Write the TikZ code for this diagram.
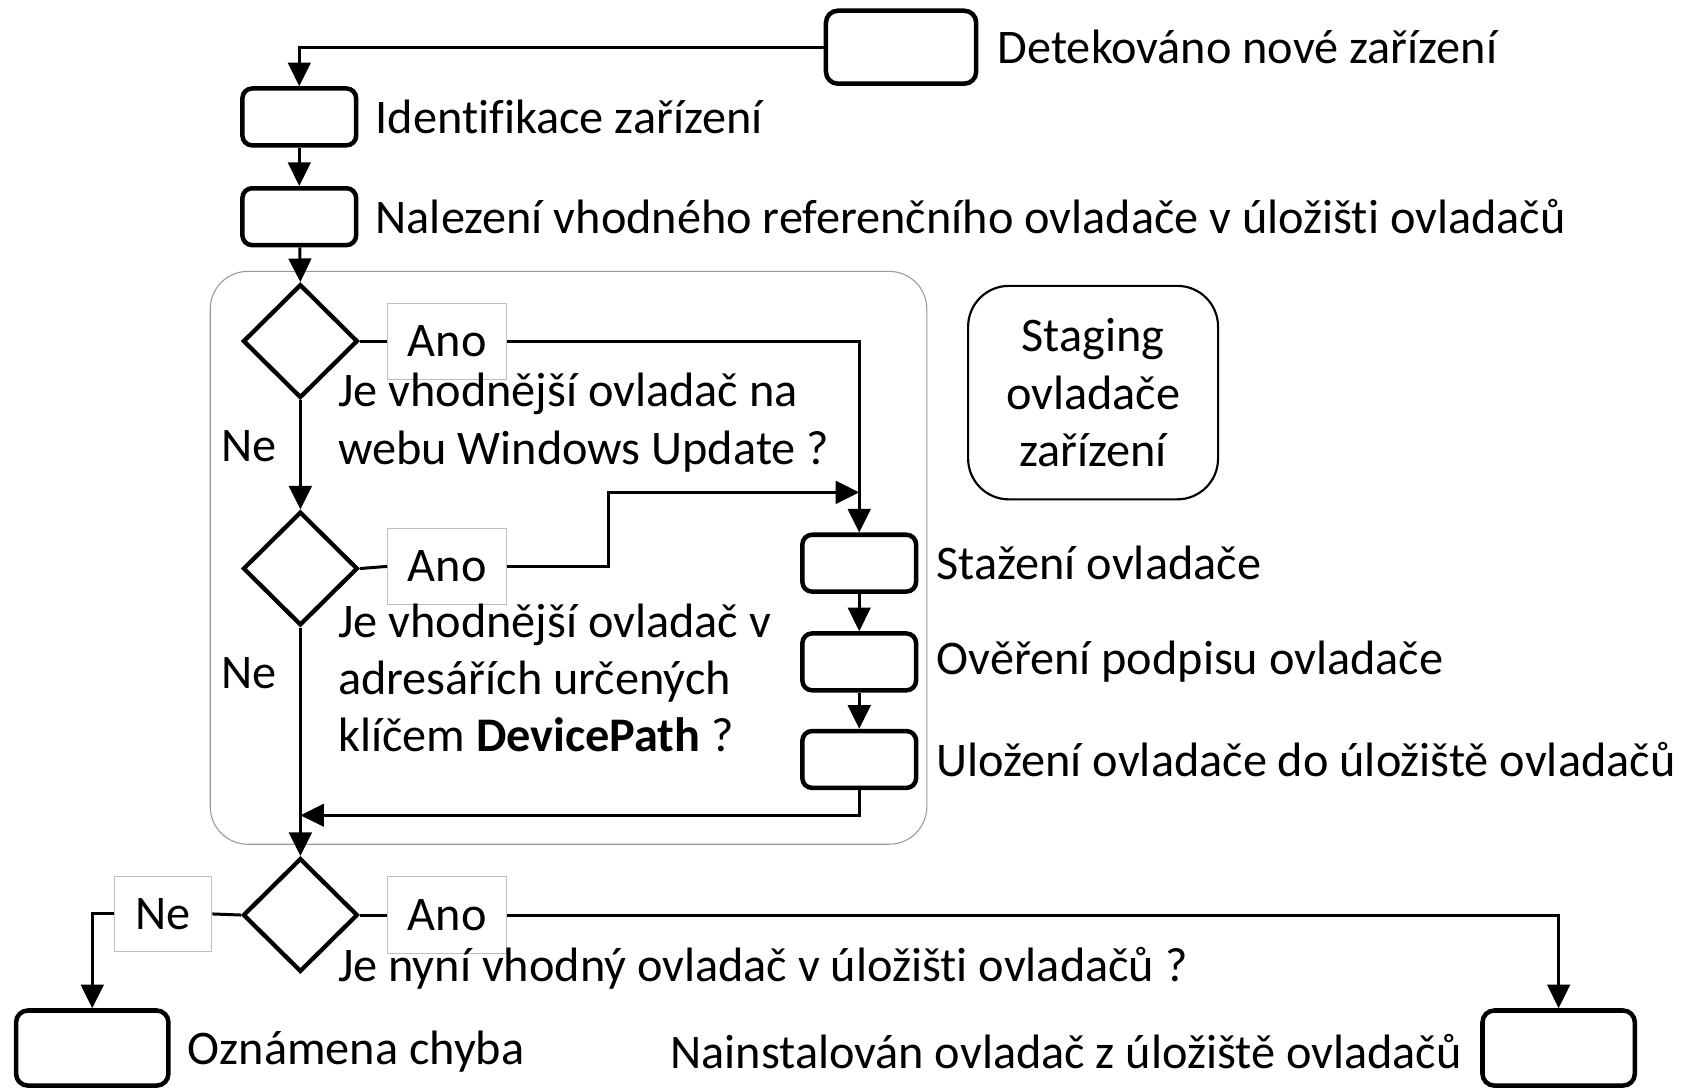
\documentclass[tikz,border=0pt]{standalone}
\usepackage{fontspec}
\setmainfont{Carlito}[Ligatures=NoCommon]
\usetikzlibrary{shapes.geometric,arrows.meta}
\begin{document}
\begin{tikzpicture}[x=1pt,y=-1pt,
  every node/.style={font=\fontsize{45}{53.5}\selectfont},
  stepbox/.style={draw,line width=4.2pt,rounded corners=9pt,minimum width=106pt,minimum height=53pt,inner sep=0pt},
  endbox/.style={draw,line width=4.2pt,rounded corners=11pt,minimum width=142pt,minimum height=70pt,inner sep=0pt},
  decision/.style={draw,diamond,line width=4pt,minimum width=107pt,minimum height=106pt,inner sep=0pt},
  lbl/.style={draw=black!25,line width=1pt,fill=white,minimum width=111pt,minimum height=71pt,inner sep=0pt},
  txt/.style={anchor=west,inner sep=0pt,align=left},
  conn/.style={line width=2.8pt},
  arr/.style={conn,-{Triangle[length=22pt,width=21pt]}}]
\useasboundingbox (0,0) rectangle (1568,1014);

% staging group
\draw[black!40,line width=1pt,rounded corners=35pt] (196,253) rectangle (864,787);
\node[draw,line width=2pt,rounded corners=38pt,minimum width=233pt,minimum height=199pt,align=center,inner sep=0pt] (stg) at (1019,366) {Staging\\ovladače\\zařízení};

% main steps
\node[stepbox,minimum width=140pt,minimum height=68pt,rounded corners=11pt] (start) at (840,44) {};
\node[txt] (tstart) at (930,44) {Detekováno nové zařízení};
\node[stepbox] (ident) at (279,109) {};
\node[txt] (tident) at (350,109) {Identifikace zařízení};
\node[stepbox] (find) at (279,202) {};
\node[txt] (tfind) at (350,202) {Nalezení vhodného referenčního ovladače v úložišti ovladačů};

% decisions
\node[decision] (d1) at (280,318) {};
\node[lbl] (ano1) at (417,318) {Ano};
\node[txt] (td1) at (315,394) {Je vhodnější ovladač na\\webu Windows Update ?};
\node[txt] (ne1) at (206,416) {Ne};

\node[decision] (d2) at (280,530) {};
\node[lbl] (ano2) at (417,528) {Ano};
\node[txt] (td2) at (315,632) {Je vhodnější ovladač v\\adresářích určených\\klíčem \textbf{DevicePath} ?};
\node[txt] (ne2) at (206,628) {Ne};

\node[decision] (d3) at (280,853) {};
\node[lbl] (ano3) at (417,853) {Ano};
\node[lbl,minimum width=91pt,minimum height=70pt] (ne3) at (152,852) {Ne};
\node[txt] (td3) at (315,903) {Je nyní vhodný ovladač v úložišti ovladačů ?};

% staging steps
\node[stepbox] (dl) at (801,525) {};
\node[txt] (tdl) at (873,525) {Stažení ovladače};
\node[stepbox] (sig) at (801,617) {};
\node[txt] (tsig) at (873,617) {Ověření podpisu ovladače};
\node[stepbox] (store) at (801,708) {};
\node[txt] (tstore) at (873,708) {Uložení ovladače do úložiště ovladačů};

% results
\node[endbox] (err) at (86,977) {};
\node[txt] (terr) at (175,980) {Oznámena chyba};
\node[endbox] (inst) at (1453,977) {};
\node[anchor=east,inner sep=0pt] (tinst) at (1363,980) {Nainstalován ovladač z úložiště ovladačů};

% connectors
\coordinate (webin) at (801,459);
\coordinate (join) at (280,760);
\draw[arr] (start.west) -| (ident.north);
\draw[arr] (ident) -- (find);
\draw[arr] (find) -- (d1.north);
\draw[conn] (d1.east) -- (ano1.west);
\draw[arr] (ano1.east) -| (dl.north);
\draw[arr] (d1.south) -- (d2.north);
\draw[conn] (d2.east) -- (ano2.west);
\draw[arr] (ano2.east) -- ++(94,0) |- (webin);
\draw[arr] (d2.south) -- (d3.north);
\draw[arr] (dl) -- (sig);
\draw[arr] (sig) -- (store);
\draw[arr] (store.south) |- (join);
\draw[conn] (d3.west) -- (ne3.east);
\draw[arr] (ne3.west) -| (err.north);
\draw[conn] (d3.east) -- (ano3.west);
\draw[arr] (ano3.east) -| (inst.north);
\end{tikzpicture}
\end{document}
